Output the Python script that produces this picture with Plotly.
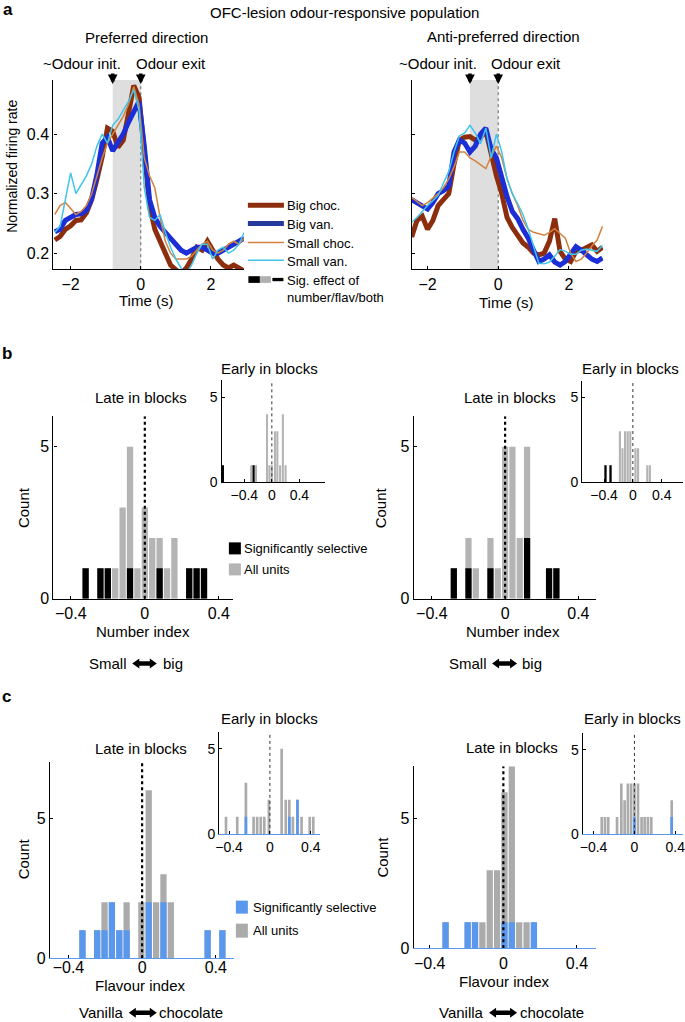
import plotly.graph_objects as go

W, H = 685, 1022
FONT = "Liberation Sans, Arial, Helvetica, sans-serif"
# the photographed page comes out slightly shrunk; positions below are target pixels
SHRINK = 0.9905
X_OFF = 3.3

# ---------------- data ----------------
T = [-2.45, -2.3, -2.15, -2.0, -1.85, -1.7, -1.55, -1.4, -1.25, -1.1, -0.95, -0.8, -0.65,
     -0.5, -0.35, -0.2, -0.05, 0.1, 0.25, 0.4, 0.55, 0.7, 0.85, 1.0, 1.15, 1.3, 1.45, 1.6,
     1.75, 1.9, 2.05, 2.2, 2.35, 2.5, 2.65, 2.8, 2.95]

pref_big_choc = [0.222, 0.228, 0.24, 0.246, 0.255, 0.256, 0.268, 0.29, 0.324, 0.362, 0.41, 0.405, 0.378,
                 0.39, 0.435, 0.482, 0.462, 0.37, 0.28, 0.24, 0.22, 0.197, 0.18, 0.172, 0.165, 0.175, 0.19, 0.21,
                 0.205, 0.22, 0.205, 0.19, 0.18, 0.175, 0.18, 0.175, 0.17]
pref_big_van = [0.236, 0.24, 0.255, 0.26, 0.265, 0.266, 0.272, 0.292, 0.332, 0.385, 0.395, 0.372, 0.385,
                0.40, 0.42, 0.44, 0.455, 0.38, 0.29, 0.26, 0.245, 0.235, 0.225, 0.215, 0.205, 0.20, 0.205, 0.21,
                0.21, 0.205, 0.20, 0.20, 0.205, 0.21, 0.215, 0.22, 0.225]
pref_small_choc = [0.265, 0.28, 0.285, 0.275, 0.265, 0.27, 0.28, 0.30, 0.33, 0.36, 0.385, 0.40, 0.415,
                   0.43, 0.45, 0.48, 0.45, 0.36, 0.33, 0.31, 0.26, 0.22, 0.20, 0.19, 0.19, 0.19, 0.195, 0.205,
                   0.215, 0.22, 0.205, 0.20, 0.205, 0.215, 0.22, 0.215, 0.225]
pref_small_van = [0.235, 0.245, 0.29, 0.335, 0.30, 0.315, 0.33, 0.35, 0.38, 0.40, 0.385, 0.415, 0.425,
                  0.44, 0.455, 0.475, 0.44, 0.31, 0.26, 0.255, 0.265, 0.235, 0.21, 0.19, 0.175, 0.165, 0.18, 0.20,
                  0.215, 0.215, 0.19, 0.205, 0.21, 0.20, 0.205, 0.215, 0.235]

anti_big_choc = [0.227, 0.255, 0.262, 0.24, 0.255, 0.28, 0.29, 0.30, 0.35, 0.39, 0.395, 0.396, 0.39,
                 0.395, 0.405, 0.365, 0.33, 0.30, 0.26, 0.243, 0.23, 0.217, 0.21, 0.20, 0.197, 0.20, 0.22, 0.258,
                 0.203, 0.19, 0.186, 0.203, 0.205, 0.21, 0.214, 0.203, 0.21]
anti_big_van = [0.29, 0.285, 0.28, 0.274, 0.285, 0.30, 0.305, 0.313, 0.37, 0.39, 0.385, 0.37, 0.38,
                0.40, 0.41, 0.375, 0.36, 0.325, 0.295, 0.27, 0.258, 0.24, 0.225, 0.205, 0.186, 0.19, 0.197, 0.185,
                0.18, 0.186, 0.20, 0.211, 0.205, 0.197, 0.19, 0.186, 0.192]
anti_small_choc = [0.294, 0.287, 0.28, 0.285, 0.292, 0.30, 0.31, 0.325, 0.345, 0.37, 0.37, 0.36, 0.355,
                   0.348, 0.342, 0.363, 0.38, 0.36, 0.325, 0.30, 0.28, 0.255, 0.24, 0.235, 0.232, 0.23, 0.235, 0.241,
                   0.233, 0.225, 0.20, 0.186, 0.19, 0.20, 0.212, 0.222, 0.245]
anti_small_van = [0.252, 0.26, 0.27, 0.28, 0.288, 0.297, 0.318, 0.337, 0.37, 0.397, 0.402, 0.415, 0.402,
                  0.384, 0.41, 0.36, 0.40, 0.37, 0.325, 0.30, 0.283, 0.265, 0.24, 0.21, 0.183, 0.182, 0.185, 0.195,
                  0.206, 0.203, 0.198, 0.198, 0.205, 0.207, 0.205, 0.203, 0.213]

# panel b : number index histograms
bL_late_x = [-0.32, -0.24, -0.2, -0.16, -0.12, -0.08, -0.04, 0.0, 0.04, 0.08, 0.12, 0.16, 0.24, 0.28, 0.32]
bL_late_all = [1, 1, 1, 1, 3, 5, 1, 3, 2, 2, 1, 2, 1, 1, 1]
bL_late_sig = [1, 1, 1, 0, 0, 1, 0, 0, 0, 1, 0, 0, 1, 1, 1]
bL_early_x = [-0.71, -0.30, -0.265, -0.23, -0.07, -0.035, 0.0, 0.045, 0.08, 0.12, 0.16, 0.2]
bL_early_all = [1, 1, 1, 1, 4, 1, 1, 3, 3, 1, 4, 1]
bL_early_sig = [1, 0, 1, 0, 0, 0, 0, 0, 0, 0, 0, 0]

bR_late_x = [-0.28, -0.2, -0.16, -0.08, -0.04, 0.0, 0.04, 0.08, 0.12, 0.24, 0.28]
bR_late_all = [1, 2, 1, 2, 1, 5, 5, 2, 5, 1, 1]
bR_late_sig = [1, 1, 0, 1, 0, 0, 0, 0, 2, 1, 1]
bR_early_x = [-0.38, -0.31, -0.18, -0.144, -0.108, -0.072, -0.036, 0.036, 0.072, 0.20, 0.236]
bR_early_all = [1, 1, 3, 2, 3, 3, 3, 2, 2, 1, 1]
bR_early_sig = [1, 1, 0, 0, 0, 0, 0, 0, 0, 0, 0]

# panel c : flavour index histograms
cL_late_x = [-0.324, -0.244, -0.204, -0.164, -0.124, -0.084, -0.004, 0.036, 0.076, 0.116, 0.156, 0.356, 0.436]
cL_late_all = [1, 1, 2, 2, 1, 2, 2, 6, 2, 3, 2, 1, 1]
cL_late_sig = [1, 1, 1, 2, 1, 1, 0, 2, 0, 2, 0, 1, 1]
cL_early_x = [-0.43, -0.32, -0.235, -0.16, -0.125, -0.09, -0.055, -0.01, 0.115, 0.155, 0.19, 0.225, 0.27, 0.31, 0.39, 0.425]
cL_early_all = [1, 1, 3, 1, 1, 1, 1, 2, 5, 2, 2, 1, 2, 1, 1, 1]
cL_early_sig = [0, 0, 1, 0, 0, 0, 0, 0, 0, 0, 1, 0, 2, 0, 0, 0]

cR_late_x = [-0.314, -0.194, -0.154, -0.114, -0.074, -0.034, 0.006, 0.046, 0.086, 0.126, 0.166]
cR_late_all = [1, 1, 1, 1, 3, 3, 6, 7, 1, 1, 1]
cR_late_sig = [1, 1, 1, 0, 0, 0, 1, 1, 0, 0, 1]
cR_early_x = [-0.32, -0.288, -0.256, -0.17, -0.128, -0.096, -0.064, -0.032, 0.0, 0.035, 0.07, 0.1, 0.132, 0.165, 0.365]
cR_early_all = [1, 1, 1, 1, 3, 2, 3, 3, 3, 3, 1, 1, 1, 1, 2]
cR_early_sig = [0, 0, 0, 0, 0, 0, 0, 0, 1, 0, 0, 0, 0, 0, 1]

# ---------------- styles ----------------
C_BIG_CHOC = "#8c2e0e"
C_BIG_VAN = "#1c2fd6"
C_SMALL_CHOC = "#d2823f"
C_SMALL_VAN = "#40c4ea"
C_GRAY_B = "#b4b4b4"
C_GRAY_C = "#ababab"
C_BLUE = "#5a98ee"


def px(x):
    return ((x - X_OFF) / SHRINK) / W


def py(y):
    return 1 - (y / SHRINK) / H


fig = go.Figure()
layout = dict(width=W, height=H, margin=dict(l=0, r=0, t=0, b=0), autosize=False,
              paper_bgcolor="white", plot_bgcolor="rgba(0,0,0,0)", showlegend=False,
              barmode="overlay", font=dict(family=FONT, size=15, color="black"),
              shapes=[], annotations=[])


def clamp(v):
    return min(1.0, max(0.0, v))


def add_axes(n, xd, yd, xr, yr, xt, yt, show_ylab=True, tfs=16, xline="black"):
    xk = "xaxis" if n == 1 else "xaxis%d" % n
    yk = "yaxis" if n == 1 else "yaxis%d" % n
    common = dict(showgrid=False, zeroline=False, showline=True, linewidth=1.3,
                  ticks="inside", ticklen=3, tickwidth=1, tickcolor="black",
                  ticklabeloverflow="allow",
                  tickfont=dict(family=FONT, size=tfs, color="black"), fixedrange=True)
    x0, x1 = px(xd[0]), px(xd[1])
    # keep domain inside [0,1]; adjust range so scale is preserved
    if x1 > 1:
        frac = (1 - x0) / (x1 - x0)
        xr = [xr[0], xr[0] + (xr[1] - xr[0]) * frac]
        x1 = 1.0
    layout[xk] = dict(domain=[x0, x1], range=xr, tickvals=xt,
                      anchor="y" if n == 1 else "y%d" % n, linecolor=xline, **common)
    layout[yk] = dict(domain=[clamp(py(yd[1])), clamp(py(yd[0]))], range=yr, tickvals=yt,
                      showticklabels=show_ylab,
                      anchor="x" if n == 1 else "x%d" % n, linecolor="black", **common)
    return ("x" if n == 1 else "x%d" % n), ("y" if n == 1 else "y%d" % n)


def text(s, x, y, size=15, xa="center", angle=0):
    layout["annotations"].append(dict(
        text=s, x=px(x), y=py(y), xref="paper", yref="paper",
        xanchor=xa, yanchor="middle", showarrow=False, textangle=angle,
        font=dict(family=FONT, size=size, color="black")))


def dbl_arrow(x0, x1, yc, hl=7, hh=5, sh=2.2):
    pts = [(x0, yc), (x0 + hl, yc - hh), (x0 + hl, yc - sh), (x1 - hl, yc - sh), (x1 - hl, yc - hh),
           (x1, yc), (x1 - hl, yc + hh), (x1 - hl, yc + sh), (x0 + hl, yc + sh), (x0 + hl, yc + hh)]
    path = "M " + " L ".join("%.5f,%.5f" % (px(a), py(b)) for a, b in pts) + " Z"
    layout["shapes"].append(dict(type="path", path=path, xref="paper", yref="paper",
                                 fillcolor="black", line=dict(width=0)))


def rect_px(x0, x1, y0, y1, color):
    layout["shapes"].append(dict(type="rect", xref="paper", yref="paper", x0=px(x0), x1=px(x1),
                                 y0=py(y1), y1=py(y0), fillcolor=color, line=dict(width=0)))


def line_px(x0, x1, y, color, width):
    layout["shapes"].append(dict(type="line", xref="paper", yref="paper", x0=px(x0), x1=px(x1),
                                 y0=py(y), y1=py(y), line=dict(color=color, width=width)))


# ---------------- panel a ----------------
YR_A = [0.173, 0.491]
panels_a = [
    (1, [52.7, 243], [-2.49, 2.94], True,
     [pref_big_choc, pref_big_van, pref_small_choc, pref_small_van]),
    (2, [411, 602], [-2.44, 2.97], False,
     [anti_big_choc, anti_big_van, anti_small_choc, anti_small_van]),
]
for n, xd, xr, lab, series in panels_a:
    xa, ya = add_axes(n, xd, [80, 269], xr, YR_A, [-2, 0, 2], [0.2, 0.3, 0.4], show_ylab=lab)
    layout["shapes"].append(dict(type="rect", xref=xa, yref=ya, x0=-0.8, x1=0, y0=YR_A[0], y1=YR_A[1],
                                 fillcolor="#dedede", line=dict(width=0), layer="below"))
    fig.add_trace(go.Scatter(x=[0, 0], y=YR_A, mode="lines", xaxis=xa, yaxis=ya,
                             line=dict(color="#666666", width=1, dash="dot")))
    cols = [C_BIG_CHOC, C_BIG_VAN, C_SMALL_CHOC, C_SMALL_VAN]
    wids = [5, 5, 1.5, 1.5]
    for s, c, w in zip(series, cols, wids):
        fig.add_trace(go.Scatter(x=T, y=s, mode="lines", xaxis=xa, yaxis=ya,
                                 line=dict(color=c, width=w)))
    for tx in (-0.8, 0.0):
        layout["annotations"].append(dict(x=tx, y=py(84), xref=xa, yref="paper", ax=0, ay=-12,
                                          text="", showarrow=True, arrowhead=2, arrowsize=0.55,
                                          arrowwidth=3.5, arrowcolor="black"))

text("<b>a</b>", 7, 9, size=17)
text("OFC-lesion odour-responsive population", 344, 12)
text("Preferred direction", 146, 37)
text("~Odour init.", 81, 63)
text("Odour exit", 170, 63)
text("Anti-preferred direction", 502, 36)
text("~Odour init.", 437, 63)
text("Odour exit", 525, 63)
text("Normalized firing rate", 11, 166, size=14, angle=-90)
text("Time (s)", 145, 300)
text("Time (s)", 505, 302)

# legend a
line_px(247, 283, 205, C_BIG_CHOC, 5)
line_px(247, 283, 223.3, "#253b9c", 5)
line_px(247, 283, 242.3, C_SMALL_CHOC, 1.5)
line_px(247, 283, 260, C_SMALL_VAN, 1.5)
rect_px(247.5, 259, 276, 282.7, "black")
rect_px(259, 270, 276, 282.7, "#b0b0b0")
rect_px(271.5, 282.5, 277.7, 281, "black")
for s, y in [("Big choc.", 205), ("Big van.", 224), ("Small choc.", 243), ("Small van.", 261),
             ("Sig. effect of", 280), ("number/flav/both", 297)]:
    text(s, 284, y, size=13, xa="left")


# ---------------- histograms ----------------
def hist(n, xd, yd, xr, yr, xs, all_c, sig_c, sig_col, gray, width, main=True, xline="black"):
    xa, ya = add_axes(n, xd, yd, xr, yr, [-0.4, 0, 0.4], [0, 5], tfs=16 if main else 14, xline=xline)
    fig.add_trace(go.Bar(x=xs, y=all_c, width=width, marker=dict(color=gray, line=dict(width=0)),
                         xaxis=xa, yaxis=ya))
    fig.add_trace(go.Bar(x=xs, y=sig_c, width=width, marker=dict(color=sig_col, line=dict(width=0)),
                         xaxis=xa, yaxis=ya))
    fig.add_trace(go.Scatter(x=[0, 0], y=[0, yr[1]], mode="lines", xaxis=xa, yaxis=ya,
                             line=dict(color="black" if main else "#333333",
                                       width=2.2 if main else 1, dash="dot")))


hist(3, [52.7, 232], [416, 598.3], [-0.494, 0.476], [0, 6], bL_late_x, bL_late_all, bL_late_sig,
     "black", C_GRAY_B, 0.034)
hist(4, [220.7, 324], [380, 482], [-0.73, 0.771], [0, 6], bL_early_x, bL_early_all, bL_early_sig,
     "black", C_GRAY_B, 0.03, main=False)
hist(5, [412.7, 595], [416, 598.3], [-0.499, 0.497], [0, 6], bR_late_x, bR_late_all, bR_late_sig,
     "black", C_GRAY_B, 0.034)
hist(6, [581, 685], [380.3, 481.7], [-0.704, 0.74], [0, 6], bR_early_x, bR_early_all, bR_early_sig,
     "black", C_GRAY_B, 0.03, main=False)

hist(7, [49.3, 233.3], [761.7, 957.7], [-0.5, 0.5], [0, 7], cL_late_x, cL_late_all, cL_late_sig,
     C_BLUE, C_GRAY_C, 0.034, xline=C_BLUE)
hist(8, [218.3, 319.3], [731.3, 833.3], [-0.497, 0.493], [0, 6], cL_early_x, cL_early_all, cL_early_sig,
     C_BLUE, C_GRAY_C, 0.026, main=False, xline=C_BLUE)
hist(9, [412.7, 595], [765.7, 947.7], [-0.487, 0.504], [0, 7], cR_late_x, cR_late_all, cR_late_sig,
     C_BLUE, C_GRAY_C, 0.034, xline=C_BLUE)
hist(10, [581.7, 685], [732.5, 833.3], [-0.505, 0.507], [0, 6], cR_early_x, cR_early_all, cR_early_sig,
     C_BLUE, C_GRAY_C, 0.026, main=False, xline=C_BLUE)

# panel b texts
text("<b>b</b>", 6, 353, size=17)
text("Late in blocks", 140, 397)
text("Early in blocks", 269, 368)
text("Count", 23, 507, angle=-90)
text("Number index", 142.5, 631)
text("Small", 128, 663, xa="right")
dbl_arrow(131.5, 156, 663)
text("big", 160, 663, xa="left")
text("Late in blocks", 509, 397)
text("Early in blocks", 629, 368)
text("Count", 379, 507, angle=-90)
text("Number index", 511.5, 631)
text("Small", 488, 663, xa="right")
dbl_arrow(491, 516, 663)
text("big", 519, 663, xa="left")
rect_px(228, 240, 542, 554, "black")
rect_px(228, 240, 563, 575, C_GRAY_B)
text("Significantly selective", 241, 548, size=13, xa="left")
text("All units", 241, 569, size=13, xa="left")

# panel c texts
text("<b>c</b>", 6, 696, size=17)
text("Late in blocks", 140, 748)
text("Early in blocks", 269, 718)
text("Count", 23, 858, angle=-90)
text("Flavour index", 140, 985)
text("Vanilla", 125, 1012, xa="right")
dbl_arrow(128, 156, 1012)
text("chocolate", 156, 1012, xa="left")
text("Late in blocks", 511, 747)
text("Early in blocks", 631, 718)
text("Count", 382, 856, angle=-90)
text("Flavour index", 503, 981)
text("Vanilla", 485, 1012, xa="right")
dbl_arrow(488, 516, 1012)
text("chocolate", 517, 1012, xa="left")
rect_px(235, 247, 900, 913, C_BLUE)
rect_px(235, 247, 923, 937, C_GRAY_C)
text("Significantly selective", 250, 907, size=13, xa="left")
text("All units", 250, 930, size=13, xa="left")

fig.update_layout(**layout)
try:
    fig.update_layout(xaxis7_ticklabelstandoff=-6)
except Exception:
    pass

fig.write_html(
    "out.html",
    config={"displayModeBar": False, "responsive": False},
    post_script=(
        "document.body.style.margin='0';"
        "var ms=document.querySelectorAll('.main-svg');"
        "for(var i=0;i<ms.length;i++){ms[i].style.overflow='visible';}"
    ),
)
